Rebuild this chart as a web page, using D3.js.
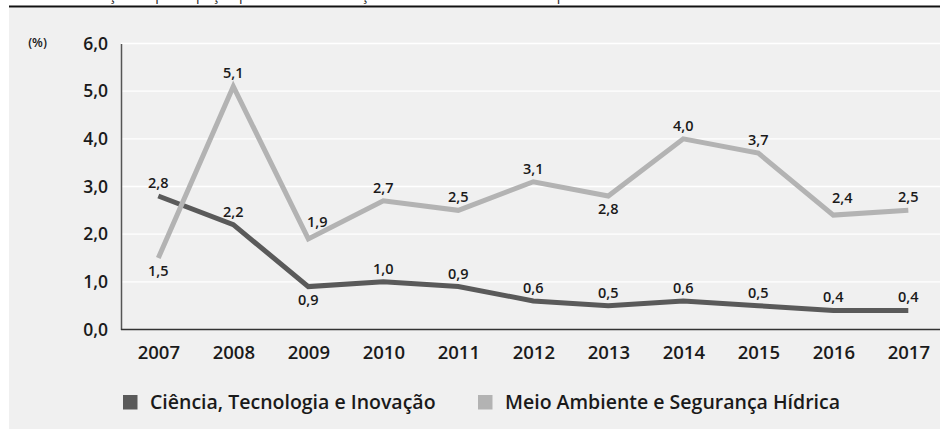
<!DOCTYPE html>
<html><head><meta charset="utf-8">
<script src="https://cdn.jsdelivr.net/npm/d3@7"></script>
<style>
body{margin:0;background:#fff;}
svg{display:block;font-family:"Open Sans",sans-serif;}
</style></head>
<body><svg id="c" width="940" height="431"></svg>
<script>
const years = ["2007","2008","2009","2010","2011","2012","2013","2014","2015","2016","2017"];
const cti = [2.8,2.2,0.9,1.0,0.9,0.6,0.5,0.6,0.5,0.4,0.4];
const mash = [1.5,5.1,1.9,2.7,2.5,3.1,2.8,4.0,3.7,2.4,2.5];
const ctiSide = ["a","a","b","a","a","a","a","a","a","a","a"];
const mashSide = ["b","a","ar","a","a","a","b","a","a","ar","a"];
const yTicks = [0,1,2,3,4,5,6];
const seriesNames = ["Ciência, Tecnologia e Inovação","Meio Ambiente e Segurança Hídrica"];
const colors = ["#5a5a5a","#b3b3b3"];
const unitLabel = "(%)";
const titleText = "Gráfico – Evolução da participação percentual das funções selecionadas no total do período";

const svg = d3.select("#c");
const fmt = v => d3.format(".1f")(v).replace(".", ",");

// title (cut off at the top edge, as in the source) and rule
svg.append("text").attr("x", 12).attr("y", -0.5).attr("font-size", 14).attr("fill","#222").text(titleText);
svg.append("rect").attr("x", 9).attr("y", 8).attr("width", 931).attr("height", 421).attr("fill", "#f0f0f0");
svg.append("line").attr("x1", 9).attr("x2", 940).attr("y1", 6.5).attr("y2", 6.5).attr("stroke", "#111").attr("stroke-width", 2);

const x = d3.scalePoint().domain(years).range([158.3, 908.3]);
const y = d3.scaleLinear().domain([0, 6]).range([329.5, 43.5]);
const plotL = 121, plotR = 940;

// gridlines
svg.append("g").selectAll("line").data(yTicks.filter(d => d > 0)).join("line")
  .attr("x1", plotL).attr("x2", plotR).attr("y1", d => y(d)).attr("y2", d => y(d))
  .attr("stroke", "#ffffff").attr("stroke-width", 1.3);

// y axis
const yAxis = svg.append("g").attr("transform", `translate(${plotL},0)`)
  .call(d3.axisLeft(y).tickValues(yTicks).tickFormat(fmt).tickSize(0).tickPadding(13));
yAxis.select(".domain").attr("stroke", "#555").attr("stroke-width", 1.5);
yAxis.selectAll("text").attr("font-size", 17.5).attr("font-weight", 600).attr("fill", "#1a1a1a")
  .attr("font-family", "'Open Sans',sans-serif");

// x axis
const xAxis = svg.append("g").attr("transform", `translate(0,${y(0)})`)
  .call(d3.axisBottom(x).tickSize(0).tickPadding(16));
xAxis.select(".domain").attr("d", `M${plotL},0H${plotR}`).attr("stroke", "#333").attr("stroke-width", 1.5);
xAxis.selectAll("text").attr("font-size", 18.5).attr("font-weight", 600).attr("fill", "#1a1a1a")
  .attr("font-family", "'Open Sans',sans-serif");

// unit label
svg.append("text").attr("x", 37.5).attr("y", 46.5).attr("text-anchor", "middle")
  .attr("font-size", 12.5).attr("font-weight", 600).attr("fill", "#1a1a1a").text(unitLabel);

const line = d3.line().x((d, i) => x(years[i])).y(d => y(d));
[cti, mash].forEach((vals, k) => {
  svg.append("path").datum(vals).attr("d", line).attr("fill", "none")
    .attr("stroke", colors[k]).attr("stroke-width", 5).attr("stroke-linejoin", "miter");
});
const dyOf = s => s === "b" ? 18 : (s === "ar" ? -12 : -8);
const dxOf = s => s === "ar" ? 9 : 0;
[[cti, ctiSide], [mash, mashSide]].forEach(([vals, side]) => {
  svg.append("g").selectAll("text").data(vals).join("text")
    .attr("x", (d, i) => x(years[i]) + dxOf(side[i]))
    .attr("y", (d, i) => y(d) + dyOf(side[i]))
    .attr("text-anchor", "middle").attr("font-size", 14.5).attr("font-weight", 600)
    .attr("fill", "#1a1a1a").text(fmt);
});

// legend
const leg = svg.append("g");
const legX = [123, 478];
seriesNames.forEach((n, k) => {
  leg.append("rect").attr("x", legX[k]).attr("y", 395).attr("width", 14.5).attr("height", 14.5).attr("fill", colors[k]);
  leg.append("text").attr("x", legX[k] + 27).attr("y", 408.5).attr("font-size", 19.5).attr("font-weight", 600)
    .attr("fill", "#1a1a1a").text(n);
});
</script></body></html>
